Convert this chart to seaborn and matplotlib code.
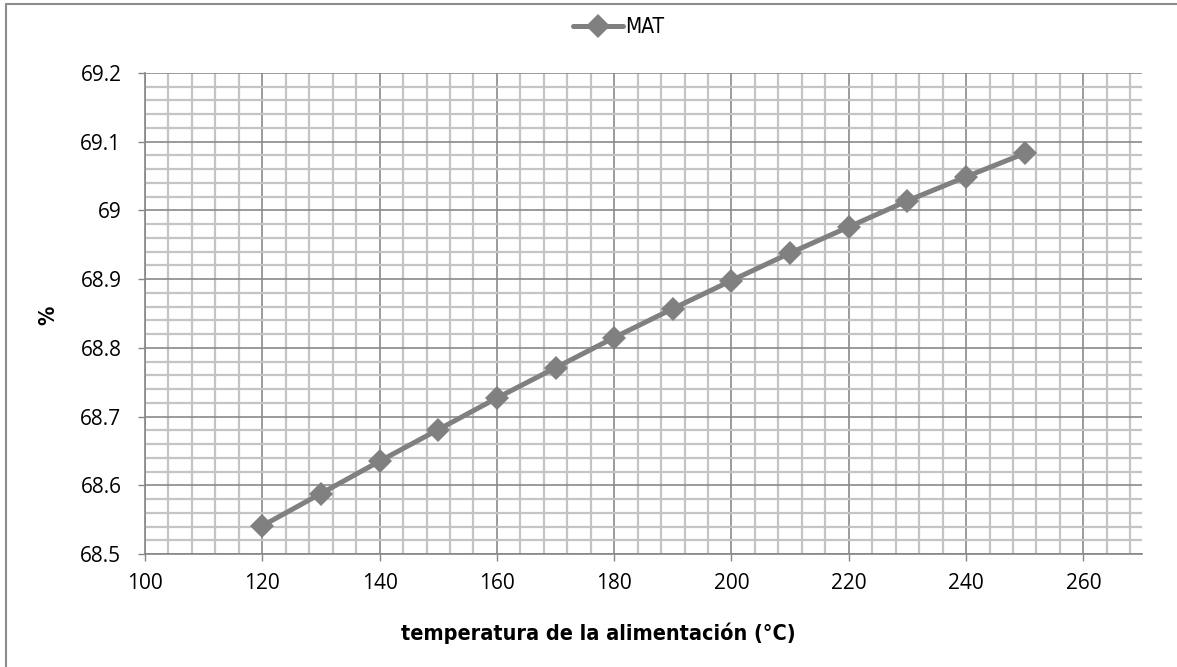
import matplotlib
matplotlib.use("Agg")
import matplotlib.pyplot as plt
from matplotlib.lines import Line2D
from matplotlib.ticker import MultipleLocator
from matplotlib.font_manager import FontProperties
import numpy as np
import pandas as pd
import seaborn as sns

# Feed temperature (°C) and MAT yield (%)
temperatura = [120, 130, 140, 150, 160, 170, 180, 190, 200, 210, 220, 230, 240, 250]
mat = [68.541, 68.588, 68.635, 68.681, 68.727, 68.771, 68.815, 68.857, 68.898, 68.938,
       68.976, 69.014, 69.049, 69.083]
y_ticks = [68.5, 68.6, 68.7, 68.8, 68.9, 69.0, 69.1, 69.2]
y_tick_labels = ["68.5", "68.6", "68.7", "68.8", "68.9", "69", "69.1", "69.2"]

df = pd.DataFrame({"temperatura": temperatura, "MAT": mat})

sns.set_theme(style="white")
plt.rcParams["font.family"] = ["Open Sans", "DejaVu Sans"]
plt.rcParams["text.color"] = "black"
plt.rcParams["axes.labelcolor"] = "black"

W, H = 1177, 667
fig = plt.figure(figsize=(W / 100, H / 100), dpi=100)
ax = fig.add_axes([145 / W, 1 - 554 / H, (1142 - 145) / W, (554 - 73) / H])

sns.lineplot(data=df, x="temperatura", y="MAT", ax=ax, color="#808080",
             linewidth=3.6, marker="D", markersize=12, markeredgewidth=0,
             label="MAT", zorder=5)

ax.set_xlim(100, 270)
ax.set_ylim(68.5, 69.2)
ax.xaxis.set_major_locator(MultipleLocator(20))
ax.xaxis.set_minor_locator(MultipleLocator(4))
ax.yaxis.set_minor_locator(MultipleLocator(0.02))
ax.set_yticks(y_ticks)
ax.set_yticklabels(y_tick_labels)

ax.grid(which="major", color="#8a8a8a", linewidth=1.2, zorder=1)
ax.grid(which="minor", color="#c4c4c4", linewidth=1.6, zorder=0)
ax.set_axisbelow(True)

for side in ["top", "right"]:
    ax.spines[side].set_visible(False)
for side in ["left", "bottom"]:
    ax.spines[side].set_color("#868686")
    ax.spines[side].set_linewidth(1.2)

ax.tick_params(axis="both", which="major", length=5, width=1, color="#868686",
               direction="out", labelsize=15, labelcolor="black",
               bottom=True, left=True)
ax.tick_params(axis="x", which="major", pad=9)
ax.tick_params(axis="y", which="major", pad=12)
ax.tick_params(axis="both", which="minor", length=0)

narrow_bold = FontProperties(family="DejaVu Sans", stretch="condensed",
                             weight="bold", size=15.5)
narrow = FontProperties(family="DejaVu Sans", stretch="condensed", size=15)

ax.set_xlabel("temperatura de la alimentación (°C)", fontproperties=narrow_bold,
              va="center", color="black")
ax.xaxis.set_label_coords((598 - 145) / (1142 - 145), -(633 - 554) / (554 - 73))
ax.set_ylabel("%", fontproperties=narrow_bold, va="center", color="black")
ax.yaxis.set_label_coords(-(145 - 48) / (1142 - 145), (554 - 315) / (554 - 73))

leg = ax.legend(loc="center", bbox_to_anchor=(619 / W, 1 - 27 / H),
                bbox_transform=fig.transFigure, frameon=False,
                prop=narrow, handlelength=2.4, handletextpad=0.1, borderpad=0)
for t in leg.get_texts():
    t.set_color("black")

# Chart frame
fig.add_artist(Line2D([6 / W, 6 / W], [0, 1 - 4 / H], transform=fig.transFigure,
                      color="#8c8c8c", linewidth=1.5))
fig.add_artist(Line2D([6 / W, 1], [1 - 4 / H, 1 - 4 / H], transform=fig.transFigure,
                      color="#8c8c8c", linewidth=1.5))

fig.savefig("out.png", dpi=100)
